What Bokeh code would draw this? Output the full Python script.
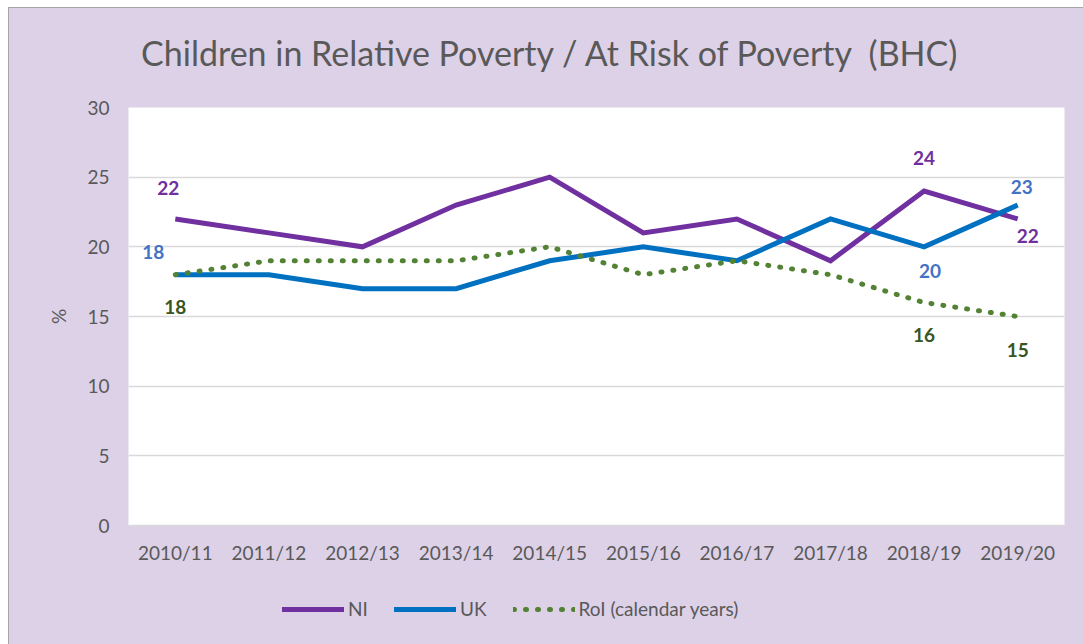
from bokeh.plotting import figure
from bokeh.layouts import column
from bokeh.models import ColumnDataSource, Legend, LegendItem, FixedTicker, Range1d, FactorRange, Label
from bokeh.core.properties import value
from bokeh.embed import file_html
from bokeh.resources import INLINE

title_text = "Children in Relative Poverty / At Risk of Poverty\u00a0 (BHC)"
years = ["2010/11", "2011/12", "2012/13", "2013/14", "2014/15",
         "2015/16", "2016/17", "2017/18", "2018/19", "2019/20"]
ni = [22, 21, 20, 23, 25, 21, 22, 19, 24, 22]
uk = [18, 18, 17, 17, 19, 20, 19, 22, 20, 23]
roi = [18, 19, 19, 19, 20, 18, 19, 18, 16, 15]
series_names = ["NI", "UK", "RoI (calendar years)"]

# which points carry a data label
ni_lab_idx = [0, 8, 9]
uk_lab_idx = [0, 8, 9]
roi_lab_idx = [0, 8, 9]

FONT = "Lato"
BG = "#DDD1E7"
GREY = "#595959"
NI_C, UK_C, ROI_C = "#7030A0", "#0070C0", "#548235"
FS = "19px"
W = 1074


def strip(height):
    f = figure(width=W, height=height, x_range=Range1d(0, 1), y_range=Range1d(0, 1),
               output_backend="svg", toolbar_location=None,
               min_border_left=0, min_border_right=0, min_border_top=0, min_border_bottom=0)
    f.axis.visible = False
    f.grid.grid_line_color = None
    f.background_fill_alpha = 0
    f.border_fill_alpha = 0
    f.outline_line_color = None
    return f

# ---- title strip
tf = strip(87)
tf.add_layout(Label(x=0.5, y=0.5, text=title_text, text_align="center", text_baseline="middle",
                    x_offset=-46, y_offset=0, text_font=FONT, text_font_size="34px",
                    text_color=GREY))

# ---- main chart
p = figure(width=W, height=480, x_range=FactorRange(*years, range_padding=0),
           y_range=Range1d(0, 30), output_backend="svg", toolbar_location=None,
           min_border_left=119, min_border_right=19, min_border_top=12, min_border_bottom=50)
p.background_fill_color = "white"
p.border_fill_alpha = 0
p.outline_line_color = None

p.yaxis.ticker = FixedTicker(ticks=[0, 5, 10, 15, 20, 25, 30])
p.yaxis.axis_line_color = None
p.yaxis.major_tick_line_color = None
p.yaxis.minor_tick_line_color = None
p.yaxis.major_label_text_font = FONT
p.yaxis.major_label_text_font_size = FS
p.yaxis.major_label_text_color = GREY
p.yaxis.major_label_standoff = 13
p.yaxis.axis_label = "%"
p.yaxis.axis_label_text_font = FONT
p.yaxis.axis_label_text_font_size = FS
p.yaxis.axis_label_text_font_style = "normal"
p.yaxis.axis_label_text_color = GREY
p.yaxis.axis_label_standoff = 14

p.xaxis.axis_line_color = "#D9D9D9"
p.xaxis.axis_line_width = 1.5
p.xaxis.major_tick_line_color = None
p.xaxis.minor_tick_line_color = None
p.xaxis.major_label_text_font = FONT
p.xaxis.major_label_text_font_size = FS
p.xaxis.major_label_text_color = GREY
p.xaxis.major_label_standoff = 9

p.xgrid.grid_line_color = None
p.ygrid.grid_line_color = "#D9D9D9"
p.ygrid.grid_line_width = 1.5

p.line(years, ni, line_color=NI_C, line_width=5, line_join="miter")
p.line(years, uk, line_color=UK_C, line_width=5, line_join="miter")
p.line(years, roi, line_color=ROI_C, line_width=5, line_dash="1 11", line_cap="round")

def add_labels(vals, idx, color, xoffs, yoffs):
    src = ColumnDataSource(dict(x=[years[i] for i in idx], y=[vals[i] for i in idx],
                                t=[str(vals[i]) for i in idx], xo=xoffs, yo=yoffs))
    p.text(x="x", y="y", text="t", x_offset="xo", y_offset="yo", source=src,
           text_color=color, text_font=value(FONT), text_font_size=FS,
           text_font_style="bold", text_align="center", text_baseline="middle")

add_labels(ni, ni_lab_idx, NI_C, [-7, 0, 10], [-31, -33, 17])
add_labels(uk, uk_lab_idx, "#4472C4", [-22, 6, 4], [-23, 24, -18])
add_labels(roi, roi_lab_idx, "#375623", [0, 0, 0], [32, 32, 33])

# ---- legend strip below the chart (series drawn out of view, only the legend shows)
lg = figure(width=W, height=69, x_range=FactorRange(*years, range_padding=0),
            y_range=Range1d(-100, -99), output_backend="svg", toolbar_location=None,
            min_border_left=0, min_border_right=0, min_border_top=0, min_border_bottom=0)
lg.axis.visible = False
lg.grid.grid_line_color = None
lg.background_fill_alpha = 0
lg.border_fill_alpha = 0
lg.outline_line_color = None
l_ni = lg.line(years, ni, line_color=NI_C, line_width=5, line_cap="round")
l_uk = lg.line(years, uk, line_color=UK_C, line_width=5, line_cap="round")
l_roi = lg.line(years, roi, line_color=ROI_C, line_width=5, line_dash="1 11", line_cap="round")
legend = Legend(items=[LegendItem(label=series_names[0], renderers=[l_ni]),
                       LegendItem(label=series_names[1], renderers=[l_uk]),
                       LegendItem(label=series_names[2], renderers=[l_roi])],
                location=(154, 24), orientation="horizontal",
                background_fill_alpha=0, border_line_color=None,
                label_text_font=FONT, label_text_font_size=FS, label_text_color=GREY,
                glyph_width=62, glyph_height=14, label_standoff=4, spacing=26, padding=0, margin=0)
lg.add_layout(legend, "center")

layout = column(tf, p, lg, spacing=0,
                styles={"background-color": BG, "margin-left": "8px", "margin-top": "7px",
                        "border-left": "1px solid #A5A5A5", "border-top": "1px solid #A5A5A5"})
open("out.html", "w").write(file_html(layout, INLINE))
